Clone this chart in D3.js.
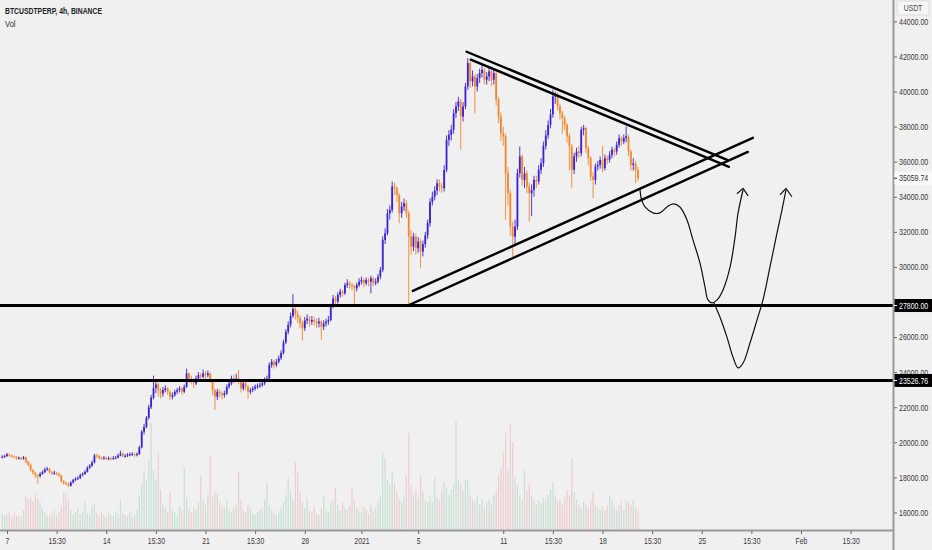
<!DOCTYPE html>
<html>
<head>
<meta charset="utf-8">
<script src="https://d3js.org/d3.v7.min.js"></script>
<style>
  html, body { margin: 0; padding: 0; background: #f0f0f0; }
  svg { display: block; }
  text { font-family: "Liberation Sans", Arial, sans-serif; }
</style>
</head>
<body>
<svg id="chart" width="932" height="550"></svg>
<script>
// ---- data ----
var firstCandle = "2020-12-06T16:00:00Z";
var candleHours = 4;
var firstOpen = 19150;

var closes = [
  19170, 19210,                                   // Dec 6 16:00, 20:00
  19310, 19250, 19210, 19150, 19080, 19120,       // Dec 7
  19060, 19140, 18890, 18720, 18410, 18260,       // Dec 8
  18130, 18070, 18200, 18300, 18450, 18490,       // Dec 9
  18300, 18220, 18260, 18200, 18110, 17780,       // Dec 10
  17670, 17650, 17520, 17710, 17840, 17920,       // Dec 11
  17970, 18130, 18200, 18320, 18550, 18660,       // Dec 12
  18850, 19250, 19210, 19100, 19080, 19120,       // Dec 13
  19060, 19090, 19050, 19110, 19130, 19250,       // Dec 14
  19360, 19210, 19230, 19290, 19310, 19330,       // Dec 15
  19260, 19330, 19710, 20600, 20880, 21400,       // Dec 16
  22000, 22550, 23100, 23300, 22980, 22790,       // Dec 17
  22980, 23070, 22880, 22600, 22690, 22880,       // Dec 18
  22980, 23070, 22880, 23170, 23930, 23640,       // Dec 19
  23550, 23360, 23640, 23830, 23740, 23930,       // Dec 20
  23830, 23930, 23550, 22980, 22600, 22880,       // Dec 21
  22790, 22690, 22790, 23170, 23360, 23640,       // Dec 22
  23550, 23640, 23450, 23070, 23360, 23170,       // Dec 23
  22880, 22980, 23070, 23170, 23210, 23260,       // Dec 24
  23360, 23550, 23640, 24400, 24600, 24400,       // Dec 25
  24600, 24800, 25100, 25700, 26300, 26700,       // Dec 26
  27200, 27600, 27300, 27100, 26800, 26500,       // Dec 27
  26950, 27050, 26880, 26970, 26880, 26780,       // Dec 28
  26880, 26590, 26780, 26880, 26970, 27740,       // Dec 29
  28210, 28020, 28400, 28590, 28500, 28970,       // Dec 30
  29070, 28970, 28880, 28780, 28970, 29160,       // Dec 31
  29260, 29070, 29260, 29160, 29350, 29070,       // Jan 1
  29160, 29450, 29830, 31540, 31920, 33060,       // Jan 2
  33250, 34585, 34490, 34110, 33060, 33440,       // Jan 3
  33630, 33060, 31730, 31160, 31730, 31065,       // Jan 4
  31450, 30875, 31300, 31800, 32500, 33700,       // Jan 5
  34000, 34350, 34770, 34580, 34490, 35530,       // Jan 6
  37250, 37530, 37820, 38770, 39150, 39440,       // Jan 7
  38580, 39150, 40290, 41625, 40580, 40860,       // Jan 8
  40290, 40770, 41050, 41240, 40670, 40860,       // Jan 9
  41150, 40670, 41050, 39530, 38580, 37630,       // Jan 10
  37440, 35345, 34200, 32300, 31730, 32300,       // Jan 11
  35345, 36300, 34960, 35345, 34580, 34200,       // Jan 12
  34400, 34965, 34870, 35536, 35916, 36900,       // Jan 13
  37500, 38100, 38700, 39720, 39820, 39150,       // Jan 14
  38770, 38480, 38100, 37440, 36870, 35536,       // Jan 15
  36300, 36580, 36490, 37820, 37915, 36770,       // Jan 16
  36200, 35156, 34965, 35726, 35820, 36100,       // Jan 17
  35630, 36200, 36110, 36390, 36680, 36580,       // Jan 18
  36960, 37340, 37150, 37340, 37440, 36580,       // Jan 19
  35820, 35900, 35536, 35059.74                   // Jan 20
];

var highs = [
  19260, 19300,
  19400, 19360, 19300, 19260, 19200, 19190,
  19170, 19230, 19180, 18950, 18790, 18480,
  18320, 18200, 18300, 18400, 18560, 18600,
  18540, 18360, 18380, 18330, 18280, 18160,
  17850, 17760, 17700, 17790, 17920, 18010,
  18060, 18220, 18290, 18400, 18640, 18760,
  18950, 19330, 19350, 19280, 19190, 19220,
  19180, 19200, 19170, 19220, 19230, 19350,
  19520, 19420, 19330, 19390, 19420, 19440,
  19400, 19420, 19800, 20700, 21050, 21500,
  22150, 22700, 23800, 23500, 23400, 23100,
  23150, 23250, 23150, 22950, 22850, 23000,
  23100, 23200, 23150, 23300, 24200, 24000,
  23800, 23650, 23800, 24000, 23950, 24150,
  24050, 24100, 24000, 23600, 23050, 23050,
  23000, 22900, 22950, 23300, 23500, 23800,
  23850, 23900, 24120, 23550, 23500, 23450,
  23250, 23100, 23200, 23300, 23350, 23400,
  23500, 23700, 23800, 24550, 24750, 24700,
  24750, 24950, 25250, 25850, 26450, 26900,
  27400, 28450, 27800, 27500, 27250, 26950,
  27150, 27300, 27200, 27200, 27150, 27050,
  27100, 26950, 26950, 27050, 27200, 27900,
  28400, 28350, 28550, 28750, 28700, 29100,
  29300, 29200, 29100, 29000, 29100, 29350,
  29450, 29350, 29400, 29380, 29500, 29450,
  29350, 29600, 30000, 31750, 32200, 33300,
  33500, 34870, 34800, 34600, 34200, 33700,
  33900, 33800, 33200, 32100, 31950, 31900,
  31700, 31600, 31500, 32000, 32700, 33900,
  34300, 34600, 35000, 35000, 34800, 35800,
  37500, 37800, 38100, 39000, 39400, 39700,
  39600, 39400, 40500, 41910, 41700, 41200,
  41000, 41000, 41300, 41530, 41350, 41100,
  41400, 41250, 41300, 41150, 39700, 38800,
  38000, 37600, 35700, 34400, 32600, 32700,
  35600, 36870, 36400, 35700, 35500, 34800,
  34700, 35200, 35200, 35800, 36200, 37150,
  37800, 38350, 39000, 40100, 40000, 39950,
  39300, 38900, 38600, 38200, 37600, 37000,
  36500, 36800, 36900, 38000, 38100, 38000,
  36900, 36300, 35400, 35900, 36050, 36300,
  36900, 36400, 36350, 36600, 36850, 36800,
  37150, 37550, 37450, 37550, 38010, 37550,
  36700, 36200, 36050, 35700
];

var lows = [
  19080, 19120,
  19180, 19170, 19130, 19090, 19000, 19020,
  18980, 19010, 18820, 18640, 18330, 18150,
  17960, 17650, 17980, 18150, 18240, 18380,
  18220, 18140, 18150, 18120, 18030, 17700,
  17580, 17560, 17450, 17480, 17650, 17780,
  17850, 17900, 18060, 18140, 18270, 18480,
  18600, 18800, 19120, 19020, 18990, 19010,
  18980, 18990, 18970, 19000, 19040, 19080,
  19200, 19140, 19130, 19160, 19200, 19230,
  19170, 19200, 19280, 19650, 20450, 20800,
  21300, 21900, 22450, 22800, 22600, 22500,
  22600, 22850, 22700, 22400, 22450, 22600,
  22750, 22850, 22700, 22800, 23100, 23400,
  23300, 23100, 23250, 23550, 23500, 23650,
  23600, 23700, 23400, 22700, 21850, 22400,
  22550, 22450, 22550, 22700, 23050, 23250,
  23350, 23450, 23300, 22850, 22950, 22950,
  22500, 22750, 22850, 22950, 23050, 23100,
  23150, 23250, 23450, 23550, 24250, 24200,
  24300, 24500, 24700, 25000, 25600, 26150,
  26550, 27100, 27000, 26800, 26500, 25800,
  26350, 26750, 26600, 26700, 26650, 26500,
  26550, 25850, 26400, 26600, 26700, 26900,
  27650, 27800, 27900, 28250, 28300, 28400,
  28800, 28750, 28650, 27850, 28600, 28850,
  29000, 28850, 28950, 28900, 28500, 28900,
  28950, 29050, 29300, 29700, 31300, 31800,
  32700, 33100, 34100, 33700, 32500, 32800,
  33200, 32800, 27830, 30700, 30900, 30700,
  30800, 29920, 30600, 31100, 31600, 32300,
  33500, 33800, 34100, 34300, 34200, 34300,
  35400, 36900, 37200, 37600, 38500, 38900,
  36680, 38300, 39000, 40100, 40200, 40300,
  38770, 40000, 40500, 40800, 40400, 40400,
  40600, 40300, 40400, 39200, 38200, 37200,
  36900, 32700, 33500, 31800, 30590, 31300,
  32100, 35100, 34600, 34500, 34200, 32580,
  32900, 34000, 34500, 34700, 35300, 35700,
  36700, 37300, 37900, 38500, 39300, 38900,
  38400, 37600, 37800, 37100, 35500, 34490,
  35300, 36000, 36200, 36300, 37500, 36500,
  35800, 34900, 33920, 34700, 35500, 35600,
  35400, 35500, 35850, 35950, 36200, 36300,
  36400, 36800, 36900, 37000, 37100, 36300,
  35500, 35500, 34775, 34900
];

// volume, thousands of contracts (approximate)
var volumes = [
  32, 28,
  30, 36, 24, 34, 28, 30,
  26, 40, 70, 62, 66, 58,
  72, 64, 56, 44, 36, 30,
  28, 34, 40, 30, 36, 48,
  76, 74, 60, 40, 32, 36,
  44, 30, 38, 56, 34, 30,
  48, 52, 34, 28, 36, 30,
  26, 34, 30, 28, 38, 32,
  60, 34, 30, 28, 36, 26,
  30, 40, 70, 90, 120, 100,
  140, 214, 120, 100, 156, 80,
  50, 44, 36, 76, 40, 34,
  30, 48, 40, 124, 64, 40,
  36, 44, 40, 56, 110, 60,
  50, 70, 150, 66, 76, 72,
  56, 48, 44, 60, 40, 36,
  44, 50, 116, 60, 40, 36,
  50, 42, 34, 30, 36, 40,
  44, 60, 96, 50, 40, 34,
  30, 38, 46, 56, 70, 104,
  80, 60, 136, 114, 76, 56,
  44, 64, 40, 36, 48, 34,
  30, 44, 70, 40, 36, 56,
  60, 86, 50, 40, 56, 44,
  40, 48, 86, 60, 44, 38,
  36, 46, 40, 32, 50, 38,
  44, 56, 70, 156, 144, 100,
  90, 116, 94, 76, 60, 56,
  70, 110, 194, 90, 70, 80,
  64, 110, 76, 60, 56, 70,
  56, 104, 64, 60, 80, 96,
  84, 70, 80, 90, 220, 100,
  90, 80, 100, 100, 70, 60,
  56, 70, 50, 60, 44, 56,
  60, 50, 70, 80, 110, 124,
  154, 194, 120, 214, 176, 104,
  90, 70, 60, 120, 80, 94,
  70, 60, 50, 60, 54, 64,
  60, 70, 80, 96, 70, 56,
  60, 50, 66, 80, 70, 144,
  76, 60, 50, 44, 56, 50,
  44, 60, 76, 50, 44, 40,
  46, 40, 50, 70, 60, 44,
  40, 50, 56, 40, 60, 56,
  50, 60, 44, 40
];

var priceTicks = [16000, 18000, 20000, 22000, 24000, 26000, 28000, 30000,
                  32000, 34000, 36000, 38000, 40000, 42000, 44000];
var levels = [27800, 23526.76];

var xTickDates = ["2020-12-07T00:00Z", "2020-12-10T12:00Z", "2020-12-14T00:00Z", "2020-12-17T12:00Z",
                  "2020-12-21T00:00Z", "2020-12-24T12:00Z", "2020-12-28T00:00Z", "2021-01-01T00:00Z",
                  "2021-01-05T00:00Z", "2021-01-11T00:00Z", "2021-01-14T12:00Z", "2021-01-18T00:00Z",
                  "2021-01-21T12:00Z", "2021-01-25T00:00Z", "2021-01-28T12:00Z", "2021-02-01T00:00Z",
                  "2021-02-04T12:00Z"];
var xTickLabels = ["7", "15:30", "14", "15:30", "21", "15:30", "28", "2021", "5", "11",
                   "15:30", "18", "15:30", "25", "15:30", "Feb", "15:30"];

// triangle drawn over the chart: [time, price] end points
var trendLines = [
  [["2021-01-08T10:00Z", 42270], ["2021-01-26T19:00Z", 36110]],
  [["2021-01-08T17:00Z", 41820], ["2021-01-26T22:00Z", 35710]],
  [["2021-01-04T08:30Z", 27830], ["2021-01-28T06:00Z", 36560]],
  [["2021-01-04T15:00Z", 28630], ["2021-01-28T14:30Z", 37360]]
];

// hand drawn scenario paths
var pathShallow = [
  ["2021-01-20T15:20Z", 34450], ["2021-01-20T18:15Z", 33820], ["2021-01-21T00:00Z", 33420],
  ["2021-01-21T13:30Z", 33080], ["2021-01-22T01:10Z", 33080], ["2021-01-22T13:10Z", 33420],
  ["2021-01-22T23:20Z", 33600], ["2021-01-23T11:00Z", 33420], ["2021-01-23T23:00Z", 32680],
  ["2021-01-24T09:10Z", 31540], ["2021-01-24T20:55Z", 30230], ["2021-01-25T05:30Z", 28860],
  ["2021-01-25T10:30Z", 28120], ["2021-01-25T17:20Z", 27950], ["2021-01-26T01:55Z", 28120],
  ["2021-01-26T12:00Z", 28690], ["2021-01-27T00:00Z", 30000], ["2021-01-27T08:25Z", 31710],
  ["2021-01-27T13:30Z", 33080], ["2021-01-27T22:00Z", 34400]
];
var pathDeep = [
  ["2021-01-25T20:40Z", 27950], ["2021-01-26T06:45Z", 27150], ["2021-01-26T18:40Z", 26000],
  ["2021-01-27T04:50Z", 24860], ["2021-01-27T13:30Z", 24240], ["2021-01-27T22:00Z", 24520],
  ["2021-01-28T09:40Z", 25660], ["2021-01-28T21:35Z", 26980], ["2021-01-29T07:40Z", 28120],
  ["2021-01-29T19:30Z", 30000], ["2021-01-30T07:25Z", 31940], ["2021-01-30T15:50Z", 33250],
  ["2021-01-30T22:35Z", 34400]
];
var arrowHeads = [
  [["2021-01-27T11:30Z", 34170], ["2021-01-27T22:00Z", 34480], ["2021-01-28T06:30Z", 34050]],
  [["2021-01-30T12:30Z", 34110], ["2021-01-30T22:35Z", 34480], ["2021-01-31T08:40Z", 34000]]
];

// ---- layout ----
var W = 932, H = 550, plotRight = 893, plotBottom = 530;
var upColor = "#3a22d8", downColor = "#f5862c";

// squeeze a text horizontally around its own x, the chart font is a narrow one
function condense(sel, k) {
  sel.each(function() {
    var tx = +this.getAttribute("x") || 0;
    d3.select(this).attr("transform", "translate(" + tx + ",0) scale(" + k + ",1) translate(" + (-tx) + ",0)");
  });
}

var svg = d3.select("#chart");
svg.append("rect").attr("width", W).attr("height", H).attr("fill", "#f0f0f0");

var x = d3.scaleUtc()
    .domain([new Date("2020-12-07T00:00Z"), new Date("2021-02-01T00:00Z")])
    .range([7, 801]);
var y = d3.scaleLinear().domain([15000, 45220]).range([plotBottom, 0]);
var yVol = d3.scaleLinear().domain([0, 240]).range([plotBottom, plotBottom - 120]);

var t0 = new Date(firstCandle).getTime();
var candles = closes.map(function(c, i) {
  return {
    t: new Date(t0 + i * candleHours * 3600 * 1000),
    o: i ? closes[i - 1] : firstOpen,
    h: highs[i], l: lows[i], c: c, v: volumes[i]
  };
});

svg.append("clipPath").attr("id", "plot")
  .append("rect").attr("width", plotRight).attr("height", plotBottom);
var g = svg.append("g").attr("clip-path", "url(#plot)");

// volume
g.append("g").selectAll("rect").data(candles).join("rect")
  .attr("x", function(d) { return x(d.t) - 0.6; })
  .attr("width", 1.2)
  .attr("y", function(d) { return yVol(d.v); })
  .attr("height", function(d) { return plotBottom - yVol(d.v); })
  .attr("fill", function(d) { return d.c >= d.o ? "rgba(60,170,110,0.22)" : "rgba(230,80,90,0.22)"; });

// candles
var cg = g.append("g").selectAll("g").data(candles).join("g")
  .attr("fill", function(d) { return d.c >= d.o ? upColor : downColor; })
  .attr("stroke", function(d) { return d.c >= d.o ? upColor : downColor; });
cg.append("line")
  .attr("x1", function(d) { return x(d.t); }).attr("x2", function(d) { return x(d.t); })
  .attr("y1", function(d) { return y(d.h); }).attr("y2", function(d) { return y(d.l); })
  .attr("stroke-width", 0.9);
cg.append("rect")
  .attr("stroke", "none")
  .attr("x", function(d) { return x(d.t) - 0.9; })
  .attr("width", 1.8)
  .attr("y", function(d) { return y(Math.max(d.o, d.c)); })
  .attr("height", function(d) { return Math.max(1, Math.abs(y(d.o) - y(d.c))); });

// horizontal levels
g.selectAll(".level").data(levels).join("line").attr("class", "level")
  .attr("x1", 0).attr("x2", plotRight)
  .attr("y1", function(d) { return y(d); }).attr("y2", function(d) { return y(d); })
  .attr("stroke", "#000").attr("stroke-width", 3);

// triangle
g.selectAll(".trend").data(trendLines).join("line").attr("class", "trend")
  .attr("x1", function(d) { return x(new Date(d[0][0])); })
  .attr("y1", function(d) { return y(d[0][1]); })
  .attr("x2", function(d) { return x(new Date(d[1][0])); })
  .attr("y2", function(d) { return y(d[1][1]); })
  .attr("stroke", "#000").attr("stroke-width", 2.4).attr("stroke-linecap", "round");

// scenario paths
var free = d3.line()
  .x(function(d) { return x(new Date(d[0])); })
  .y(function(d) { return y(d[1]); })
  .curve(d3.curveCatmullRom);
[pathShallow, pathDeep].forEach(function(p) {
  g.append("path").datum(p).attr("d", free)
    .attr("fill", "none").attr("stroke", "#111").attr("stroke-width", 1.2);
});
g.selectAll(".arrow").data(arrowHeads).join("path").attr("class", "arrow")
  .attr("d", d3.line().x(function(d) { return x(new Date(d[0])); }).y(function(d) { return y(d[1]); }))
  .attr("fill", "none").attr("stroke", "#111").attr("stroke-width", 1.2);

// ---- axes ----
svg.append("line").attr("x1", 0).attr("x2", plotRight).attr("y1", plotBottom + 0.5).attr("y2", plotBottom + 0.5)
  .attr("stroke", "#9a9a9a").attr("stroke-width", 2);
svg.append("line").attr("x1", plotRight + 0.5).attr("x2", plotRight + 0.5).attr("y1", 0).attr("y2", H)
  .attr("stroke", "#9a9a9a").attr("stroke-width", 2);

// tick labels hidden under a price tag are dropped, as on the original scale
var shownTicks = priceTicks.filter(function(p) {
  return levels.every(function(l) { return Math.abs(y(p) - y(l)) > 6; });
});
var yAxis = svg.append("g").attr("transform", "translate(" + (plotRight + 1) + ",0)")
  .call(d3.axisRight(y).tickValues(shownTicks).tickFormat(d3.format(".2f")).tickSize(3).tickPadding(2));
yAxis.select(".domain").remove();
yAxis.selectAll("text").attr("fill", "#3a3a3a").style("font-size", "9px").call(condense, 0.78);
yAxis.selectAll("line").attr("stroke", "#666");

var xAxis = svg.append("g").attr("transform", "translate(0," + (plotBottom + 1) + ")")
  .call(d3.axisBottom(x).tickValues(xTickDates.map(function(s) { return new Date(s); }))
    .tickFormat(function(d, i) { return xTickLabels[i]; }).tickSize(3).tickPadding(4));
xAxis.select(".domain").remove();
xAxis.selectAll("text").attr("fill", "#3a3a3a").style("font-size", "9px").call(condense, 0.76);
xAxis.selectAll("line").attr("stroke", "#666");

// price tags on the scale
function tag(price, bg, fg, label) {
  var ty = y(price);
  svg.append("rect").attr("x", plotRight + 1.5).attr("y", ty - 6.5).attr("width", W - plotRight - 1.5).attr("height", 13)
    .attr("fill", bg);
  svg.append("line").attr("x1", plotRight + 1).attr("x2", plotRight + 4).attr("y1", ty).attr("y2", ty)
    .attr("stroke", fg);
  svg.append("text").attr("x", plotRight + 6).attr("y", ty).attr("dy", "0.34em")
    .attr("fill", fg).style("font-size", "9px").text(label).call(condense, 0.78);
}
tag(closes[closes.length - 1], "#fafafa", "#333", d3.format(".2f")(closes[closes.length - 1]));
levels.forEach(function(l) { tag(l, "#000", "#fff", d3.format(".2f")(l)); });

// currency label
svg.append("rect").attr("x", plotRight + 4).attr("y", 1).attr("width", 32).attr("height", 14)
  .attr("fill", "#f6f6f6").attr("stroke", "#dcdcdc");
svg.append("text").attr("x", plotRight + 20).attr("y", 11).attr("text-anchor", "middle")
  .attr("fill", "#444").style("font-size", "8.5px").text("USDT").call(condense, 0.8);

// title
svg.append("text").attr("x", 5).attr("y", 14).attr("fill", "#222")
  .style("font-size", "9.5px").style("font-weight", "bold").text("BTCUSDTPERP, 4h, BINANCE").call(condense, 0.72);
svg.append("text").attr("x", 5).attr("y", 27).attr("fill", "#333")
  .style("font-size", "9.5px").text("Vol").call(condense, 0.8);
</script>
</body>
</html>
